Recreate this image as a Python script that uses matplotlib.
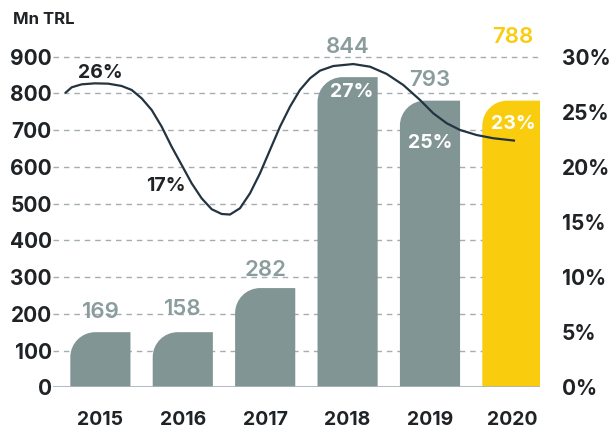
import matplotlib.pyplot as plt
from matplotlib.path import Path
from matplotlib.patches import PathPatch

plt.rcParams['font.family'] = ['Inter', 'DejaVu Sans']

# dados
anos = ['2015', '2016', '2017', '2018', '2019', '2020']
altura_barras = [150, 150, 270, 844, 780, 780]
rotulos_valor = ['169', '158', '282', '844', '793', '788']
valor_y = [206, 212, 319, 927, 836, 954]
rotulos_pct = ['26%', '17%', '27%', '25%', '23%']
# posicao (x, y em unidades do eixo esquerdo) dos rotulos de percentual
pct_x = [0.0, 0.80, 3.05, 4.0, 5.01]
pct_y = [856, 548, 804, 666, 716]
# curva da margem (x em posicao de barra, y em %)
curva_x = [-0.430, -0.348, -0.227, -0.066, 0.096, 0.258, 0.380, 0.501, 0.623, 0.744,
           0.865, 0.987, 1.108, 1.229, 1.351, 1.472, 1.573, 1.694, 1.816, 1.937,
           2.058, 2.180, 2.301, 2.422, 2.544, 2.665, 2.826, 3.069, 3.272, 3.475,
           3.676, 3.879, 4.040, 4.203, 4.364, 4.567, 4.768, 5.032]
curva_y = [26.67, 27.21, 27.48, 27.57, 27.54, 27.33, 26.97, 26.21, 25.15, 23.64,
           21.82, 20.16, 18.50, 17.14, 16.15, 15.72, 15.67, 16.24, 17.60, 19.41,
           21.52, 23.64, 25.45, 26.97, 28.03, 28.72, 29.14, 29.32, 29.08, 28.42,
           27.42, 26.06, 24.85, 23.95, 23.34, 22.88, 22.59, 22.37]
rotulos_y_esq = list(range(0, 1000, 100))
rotulos_y_dir = list(range(0, 35, 5))

CINZA = '#829595'
AMARELO = '#FACC0E'
ESCURO = '#1f2326'
cores = [CINZA] * 5 + [AMARELO]
cores_valor = ['#8a9c9c'] * 5 + [AMARELO]
cores_pct = [ESCURO, ESCURO, 'white', 'white', 'white']

fig = plt.figure(figsize=(6.11, 4.29), dpi=100)
ax = fig.add_axes([53 / 611, 1 - 387.3 / 429, (540 - 53) / 611, (387.3 - 34.5) / 429])
ax.set_xlim(-0.575, 5.335)
ax.set_ylim(0, 960)

x = list(range(len(anos)))
barras = ax.bar(x, altura_barras, width=0.73, color=cores, zorder=2)

# canto superior esquerdo arredondado
inv = ax.transData.inverted()
p0 = inv.transform((0, 0))
p1 = inv.transform((25, 25))
rx, ry = p1[0] - p0[0], p1[1] - p0[1]
k = 0.5523
for b, cor in zip(barras, cores):
    x0, y0, w, h = b.get_x(), b.get_y(), b.get_width(), b.get_height()
    verts = [(x0, y0), (x0 + w, y0), (x0 + w, y0 + h), (x0 + rx, y0 + h),
             (x0 + rx * (1 - k), y0 + h), (x0, y0 + h - ry * (1 - k)), (x0, y0 + h - ry),
             (x0, y0), (x0, y0)]
    codes = [Path.MOVETO, Path.LINETO, Path.LINETO, Path.LINETO,
             Path.CURVE4, Path.CURVE4, Path.CURVE4, Path.LINETO, Path.CLOSEPOLY]
    ax.add_patch(PathPatch(Path(verts, codes), facecolor=cor, edgecolor='none', zorder=2))
    b.set_visible(False)

ax.set_yticks(rotulos_y_esq)
ax.set_yticklabels([str(v) for v in rotulos_y_esq])
ax.yaxis.grid(True, linestyle=(0, (4, 3.5)), color='#a3adb2', linewidth=1, zorder=0)
ax.set_axisbelow(True)
ax.get_ygridlines()[0].set_visible(False)
ax.axhline(0, color='#aab5ba', linewidth=2, zorder=3)
ax.set_xticks(x)
ax.set_xticklabels(anos)
ax.tick_params(axis='x', length=0, pad=17, labelsize=14, labelcolor=ESCURO)
ax.tick_params(axis='y', length=0, pad=1, labelsize=15, labelcolor=ESCURO)
for t in ax.get_xticklabels() + ax.get_yticklabels():
    t.set_fontweight('bold')
for s in ax.spines.values():
    s.set_visible(False)

for xi, r, yv, c in zip(x, rotulos_valor, valor_y, cores_valor):
    ax.text(xi, yv, r, ha='center', va='center', fontsize=16, color=c,
            fontweight='semibold', zorder=5)

ax2 = ax.twinx()
ax2.set_ylim(0, 32)
ax2.set_yticks(rotulos_y_dir)
ax2.set_yticklabels([f'{v}%' for v in rotulos_y_dir])
ax2.tick_params(axis='y', length=0, pad=15.5, labelsize=15, labelcolor=ESCURO)
for t in ax2.get_yticklabels():
    t.set_fontweight('bold')
for s in ax2.spines.values():
    s.set_visible(False)
ax2.plot(curva_x, curva_y, color='#233340', linewidth=1.6, solid_joinstyle='round',
         solid_capstyle='butt', zorder=4)

for xi, yi, r, c in zip(pct_x, pct_y, rotulos_pct, cores_pct):
    ax2.text(xi, yi * 32 / 960, r, ha='center', va='center', fontsize=14,
             color=c, fontweight='bold', zorder=6)

fig.text(13 / 611, 1 - 20 / 429, 'Mn TRL', ha='left', va='center', fontsize=12,
         fontweight='bold', color=ESCURO)

fig.savefig('out.png', dpi=100)
